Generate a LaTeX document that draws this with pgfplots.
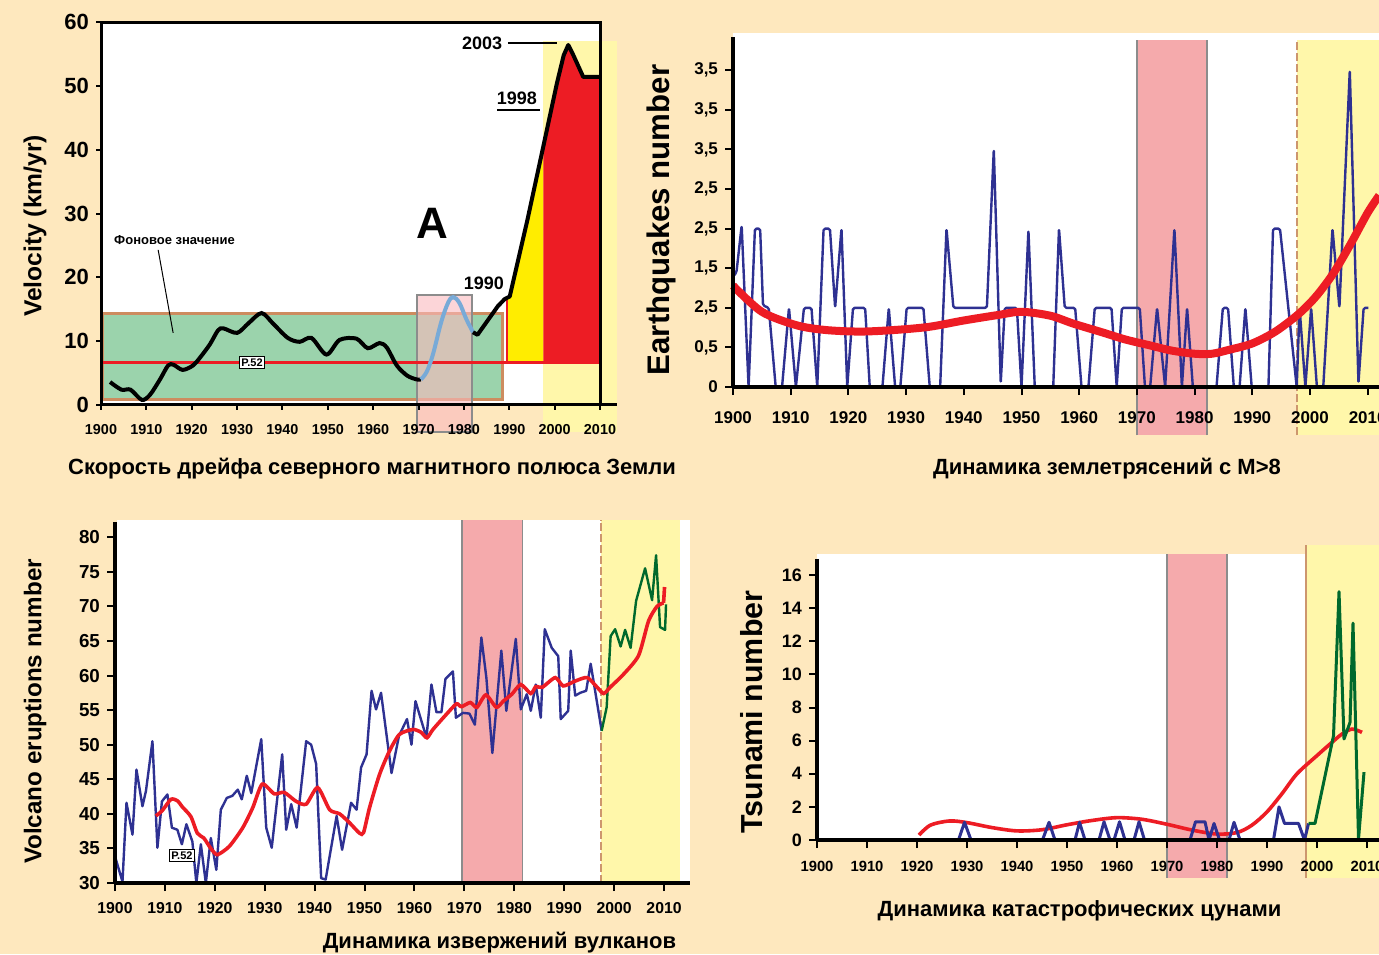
\documentclass[border=0pt]{standalone}
\usepackage{fontspec}
\setmainfont{Liberation Sans}
\usepackage{pgfplots}
\pgfplotsset{compat=1.18}
\definecolor{bg}{RGB}{254,232,190}
\definecolor{lyel}{RGB}{255,247,170}
\definecolor{pnk}{RGB}{245,170,172}
\definecolor{grn}{RGB}{155,211,172}
\definecolor{brn}{RGB}{205,140,95}
\definecolor{rd}{RGB}{237,28,36}
\definecolor{yel}{RGB}{255,237,0}
\definecolor{nb}{RGB}{46,49,146}
\definecolor{dg}{RGB}{0,105,45}
\definecolor{lb}{RGB}{120,170,215}
\definecolor{gr}{RGB}{140,140,140}
\definecolor{tanc}{RGB}{205,150,110}
\definecolor{ovl}{RGB}{250,185,190}
\newcommand{\fs}[1]{\bfseries\fontsize{#1}{#1}\selectfont}
\pgfplotsset{
  base/.style={scale only axis, clip=false, axis on top,
    /pgf/number format/assume math mode=true,
    /pgf/number format/1000 sep={},
    tick align=outside, tick style={black, line width=1pt},
    major tick length=4pt, axis line style={line width=2pt},
    anchor=south west},
}
\begin{document}
\begin{tikzpicture}
\useasboundingbox (0,0) rectangle (689.5pt,477pt);
\fill[bg] (0,0) rectangle (689.5pt,477pt);

% ---------------- Panel 1 ----------------
\begin{axis}[base, at={(50.5pt,274.5pt)}, width=249.5pt, height=191.5pt,
  xmin=1900, xmax=2010, ymin=0, ymax=60,
  xtick={1900,1910,...,2010}, ytick={0,10,...,60}, tick pos=left,
  axis line style={line width=1.5pt}, major tick length=2.5pt,
  axis background/.style={fill=white},
  xticklabel style={font=\fs{7.2}, yshift=-3.5pt}, yticklabel style={font=\fs{11}}]
\fill[lyel] (axis cs:1997.5,-4.2) rectangle (axis cs:2013.7,57);
\filldraw[fill=grn, draw=brn, line width=1.5pt] (axis cs:1900.3,0.8) rectangle (axis cs:1988.5,14.4);
\filldraw[fill=ovl, fill opacity=0.6, draw=gr, line width=0.8pt] (axis cs:1969.7,-4.2) rectangle (axis cs:1981.8,17.2);
\addplot[fill=yel, draw=none] coordinates {(1989.4,6.6)(1989.4,16.8)(1990.1,17)(1994,29)(1997.5,40.5)(1997.5,6.6)} -- cycle;
\addplot[fill=rd, draw=none] coordinates {(1997.5,6.6)(1997.5,40.5)(2000.5,50.4)(2002,54.8)(2003,56.4)(2004,55)(2006.3,51.4)(2010,51.4)(2010,6.6)} -- cycle;
\addplot[rd, line width=1.5pt] coordinates {(1900,6.6)(2010,6.6)};
\addplot[rd, line width=1pt] coordinates {(1989.4,6.6)(1989.4,16.8)};
\addplot[black, line width=2pt, smooth, tension=0.5] coordinates {(1902,3.6)(1904.5,2.4)(1906.5,2.4)(1909,0.8)(1910.8,1.6)(1913,4)(1914.8,6.2)(1916,6.3)(1918,5.5)(1920.3,6.2)(1921.8,7.4)(1924,9.5)(1925.8,11.7)(1927,12)(1930,11.3)(1932.5,12.8)(1935.4,14.4)(1938,12.7)(1941.2,10.5)(1943.8,9.9)(1946.4,10.5)(1949.7,7.9)(1952.6,10.2)(1956.3,10.4)(1958.8,8.9)(1961.4,9.7)(1963,9)(1965.2,6.2)(1967.5,4.6)(1969.6,4)(1970.5,4)};
\addplot[lb, line width=2pt, smooth, tension=0.6] coordinates {(1970.5,4)(1971.8,5.2)(1973.2,8)(1975,13)(1976.5,16)(1977.6,16.9)(1979,16)(1980.5,13.5)(1982,11.4)};
\addplot[black, line width=2pt, line join=round] coordinates {(1982,11.4)(1983,11)(1985,13)(1987.5,15.5)(1989,16.6)(1990.1,17)(1994,29)(1997.5,40.5)(2000.5,50.4)(2002,54.8)(2003,56.4)(2004,55)(2006.3,51.4)(2010,51.4)};
\draw[line width=1.5pt] (axis cs:2010,0) -- (axis cs:2013.7,0);
\node[font=\fs{6.5}] at (axis cs:1916.2,25.9) {Фоновое значение};
\draw[line width=0.5pt] (axis cs:1912.6,24.3) -- (axis cs:1915.9,11.3);
\node[draw=black, fill=white, inner sep=1pt, line width=0.6pt, font=\fs{5.5}] at (axis cs:1933.3,6.7) {P.52};
\node[font=\fs{22}] at (axis cs:1973,28.5) {A};
\node[font=\fs{9}] at (axis cs:1984.4,19.1) {1990};
\node[font=\fs{9}] at (axis cs:1991.7,48) {1998};
\draw[line width=0.6pt] (axis cs:1987.3,46.2) -- (axis cs:1996.8,46.2);
\node[font=\fs{9}] at (axis cs:1984,56.7) {2003};
\draw[line width=0.6pt] (axis cs:1989.7,56.7) -- (axis cs:2000.5,56.7);
\end{axis}

% ---------------- Panel 2 ----------------
\begin{axis}[base, at={(366.5pt,283.5pt)}, width=323.1pt, height=175pt,
  xmin=1900, xmax=2012, ymin=0, ymax=4.42,
  axis x line*=bottom, axis y line*=left,
  xtick={1900,1910,...,2010}, ytick={0,0.5,...,4},
  yticklabels={0,{0,5},{2,5},{1,5},{2,5},{2,5},{3,5},{3,5},{3,5}},
  xticklabel style={font=\fs{8.5}, yshift=-5pt}, yticklabel style={font=\fs{8.5}}]
\fill[white] (axis cs:1900,0) rectangle (axis cs:2013,4.47);
\fill[lyel] (axis cs:1997.7,-0.61) rectangle (axis cs:2013,4.38);
\fill[pnk] (axis cs:1970,-0.61) rectangle (axis cs:1982.1,4.38);
\draw[gr, line width=0.8pt] (axis cs:1970,-0.61) -- (axis cs:1970,4.38) (axis cs:1982.1,-0.61) -- (axis cs:1982.1,4.38);
\draw[tanc, line width=0.8pt, dash pattern=on 4pt off 1.5pt] (axis cs:1997.7,-0.61) -- (axis cs:1997.7,4.38);
\addplot[nb, line width=1.2pt, line join=round, rounded corners=0.8pt] coordinates {(1900,1.39)(1900.6,1.45)(1901.5,2.04)(1902.7,0)(1903.8,2)(1904.7,2)(1905.2,1.03)(1906.2,1)(1907.4,0)(1908.5,0)(1909.7,1)(1910.9,0)(1912.3,1)(1913.6,1)(1914.6,0)(1915.7,2)(1916.8,2)(1917.7,1)(1918.8,2)(1919.8,0)(1920.8,1)(1922.9,1)(1923.7,0)(1925.9,0)(1927,1)(1928.1,0)(1929,0)(1930.1,1)(1933,1)(1934.1,0)(1935.9,0)(1937,2)(1938.2,1)(1944,1)(1945.2,3)(1946.4,0.05)(1947.1,1)(1949.2,1)(1950,0)(1951.2,1.98)(1952.3,0)(1955.5,0)(1956.5,2)(1957.5,1)(1959.3,1)(1960.4,0)(1961.6,0)(1962.7,1)(1965.6,1)(1966.5,0)(1967.4,1)(1970.5,1)(1971.4,0)(1972.3,0)(1973.5,1)(1974.9,0)(1976.5,2)(1977.8,0)(1978.7,1)(1979.7,0)(1983.8,0)(1984.9,1)(1985.8,1)(1986.8,0)(1987.8,0)(1988.8,1)(1989.9,0)(1992.8,0)(1993.6,2)(1994.8,2)(1997.7,0)(1998.2,1)(1999.2,0)(2000.2,1)(2001.2,0)(2002.3,0)(2003.9,2)(2005.1,1)(2006.9,4)(2008.4,0.05)(2009.3,1)(2010.1,1)};
\addplot[rd, line width=4pt, smooth] coordinates {(1900,1.28)(1905,0.95)(1911,0.78)(1916,0.72)(1922,0.70)(1928,0.72)(1934,0.76)(1940,0.84)(1946,0.91)(1950,0.95)(1955,0.9)(1959,0.80)(1964,0.69)(1968,0.60)(1972,0.53)(1976,0.46)(1980,0.42)(1983,0.42)(1986,0.47)(1990,0.55)(1994,0.70)(1998,0.92)(2001,1.14)(2004,1.43)(2007,1.8)(2010,2.2)(2012,2.42)};
\end{axis}

% ---------------- Panel 3 ----------------
\begin{axis}[base, at={(57.5pt,35.5pt)}, width=287.5pt, height=180.5pt,
  xmin=1900, xmax=2015.2, ymin=30, ymax=82.2,
  axis x line*=bottom, axis y line*=left,
  xtick={1900,1910,...,2010}, ytick={30,35,...,80},
  xticklabel style={font=\fs{7.9}, yshift=-2pt}, yticklabel style={font=\fs{9.4}}]
\fill[white] (axis cs:1900.4,30) rectangle (axis cs:2015.2,82.5);
\fill[lyel] (axis cs:1997.4,30) rectangle (axis cs:2013.2,82.5);
\fill[pnk] (axis cs:1969.5,30) rectangle (axis cs:1981.6,82.5);
\draw[gr, line width=0.8pt] (axis cs:1969.5,30) -- (axis cs:1969.5,82.5) (axis cs:1981.6,30) -- (axis cs:1981.6,82.5);
\draw[tanc, line width=0.8pt, dash pattern=on 4pt off 1.5pt] (axis cs:1997.4,30) -- (axis cs:1997.4,82.5);
\addplot[nb, line width=1.2pt, line join=round] coordinates {(1900.1,33.6)(1901.5,30.2)(1902.3,41.6)(1903.5,37)(1904.3,46.4)(1905.5,41.1)(1906.2,43.3)(1907.5,50.5)(1908.5,35.1)(1909.4,41.8)(1910.5,42.8)(1911.4,38)(1912.5,37.7)(1913.4,35.6)(1914.3,38.5)(1915.5,36)(1916.3,30)(1917.2,35.6)(1918.2,30)(1919.2,36.5)(1920.3,31.9)(1921.2,40.6)(1922.4,42.3)(1923.5,42.6)(1924.6,43.5)(1925.4,42.1)(1926.4,45.5)(1927.3,43)(1929.3,50.8)(1930.3,38)(1931.4,35.1)(1933.5,48.6)(1934.3,37.7)(1935.3,41.4)(1936.4,38)(1938.3,50.5)(1939.3,50)(1940.3,47.2)(1941.3,30.7)(1942.2,30.5)(1944.4,39.7)(1945.5,34.8)(1947.3,41.6)(1948.4,40.6)(1949.3,46.7)(1950.4,48.6)(1951.4,57.8)(1952.3,55.1)(1953.3,57.5)(1955.4,45.9)(1956.9,51.3)(1958.5,53.7)(1959.4,50)(1960.2,56.3)(1962.4,51)(1963.4,58.7)(1964.4,54.7)(1965.4,54.7)(1966.2,59.5)(1967.7,60.6)(1968.3,53.9)(1969.7,54.6)(1971,54.5)(1972.1,52.9)(1973.4,65.5)(1974.4,59.7)(1975.6,48.8)(1977.4,63.6)(1978.4,54.9)(1980.3,65.3)(1981.3,55.1)(1982.5,57.3)(1983.3,54.9)(1984.3,58.7)(1985.3,53.9)(1986.1,66.7)(1987.5,64)(1988.8,62.8)(1989.3,53.7)(1990.8,54.9)(1991.3,63.6)(1992.2,57.1)(1993.2,57.5)(1994.4,57.8)(1995.3,61.7)(1997.5,52)};
\addplot[dg, line width=1.2pt, line join=round] coordinates {(1997.5,52)(1998.5,55.4)(1999.3,65.7)(2000.2,66.7)(2001.3,64.2)(2002.2,66.6)(2003.3,64)(2004.4,70.8)(2006.2,75.5)(2007.6,70.9)(2008.4,77.4)(2009.2,67)(2010.2,66.6)(2010.4,70.3)};
\addplot[rd, line width=1.8pt, smooth, tension=0.4] coordinates {(1908.2,39.7)(1909.5,40.5)(1911.2,42.1)(1912.5,41.9)(1913.5,41)(1915.2,39.6)(1916.5,37.2)(1917.8,36.5)(1919.2,35)(1920.5,34.1)(1922.9,35.3)(1925.6,38)(1927.6,40.9)(1929.5,44.3)(1931.9,42.9)(1933.9,43.1)(1936.3,41.8)(1938.3,41.4)(1940.6,43.8)(1943,40.6)(1945,40)(1947,38.7)(1949,37.2)(1949.8,37.3)(1951,40.9)(1953,45.7)(1955,49.1)(1957,51.5)(1959.7,52.2)(1961.3,51.8)(1962.5,51)(1963.7,52.2)(1966.4,54.4)(1968.4,55.9)(1969.4,55.5)(1971.2,56.1)(1972.5,55.4)(1974.3,57.2)(1976.4,55.4)(1977.8,56.3)(1979.5,57.3)(1981.3,58.7)(1983.3,57.4)(1984.3,58.4)(1985.6,58.3)(1988.2,59.7)(1989.8,58.5)(1992.2,59.2)(1994.6,59.7)(1996.6,58.3)(1997.9,57.4)(1999.2,58.3)(2001.9,60.2)(2004.9,62.9)(2006.9,67.9)(2008.6,70)(2009.9,70.5)};
\addplot[rd, line width=1.8pt] coordinates {(2009.9,70.5)(2010.1,72.8)};
\node[draw=black, fill=white, inner sep=1pt, line width=0.6pt, font=\fs{5.5}] at (axis cs:1913.4,34) {P.52};
\end{axis}

% ---------------- Panel 4 ----------------
\begin{axis}[base, at={(408.5pt,57pt)}, width=282.5pt, height=140.75pt,
  xmin=1900, xmax=2013, ymin=0, ymax=17,
  axis x line*=bottom, axis y line*=left,
  xtick={1900,1910,...,2010}, ytick={0,2,...,16},
  xticklabel style={font=\fs{7.4}, yshift=-3pt}, yticklabel style={font=\fs{9}}]
\fill[white] (axis cs:1900,0) rectangle (axis cs:1997.8,17.3);
\fill[lyel] (axis cs:1997.8,-2.3) rectangle (axis cs:2014,17.8);
\fill[pnk] (axis cs:1970,-2.3) rectangle (axis cs:1982,17.3);
\draw[gr, line width=0.8pt] (axis cs:1970,-2.3) -- (axis cs:1970,17.3) (axis cs:1982,-2.3) -- (axis cs:1982,17.3);
\draw[tanc, line width=0.6pt] (axis cs:1997.8,-2.3) -- (axis cs:1997.8,17.8);
\addplot[rd, line width=1.8pt, smooth] coordinates {(1920.4,0.3)(1922.7,0.9)(1926.5,1.15)(1930,1.05)(1935,0.75)(1940,0.55)(1945,0.62)(1950,0.92)(1955,1.18)(1960,1.35)(1965,1.25)(1970,0.95)(1975,0.6)(1980,0.36)(1984,0.45)(1987,0.9)(1990,1.7)(1993,2.8)(1996,4)(2000,5.1)(2003,5.9)(2005,6.4)(2007,6.7)(2009,6.5)};
\addplot[nb, line width=1.5pt, line join=round] coordinates {(1928.3,0)(1929.5,1.07)(1930.8,0)(1945.1,0)(1946.4,1.07)(1947.6,0)(1951.6,0)(1952.5,1.07)(1953.6,0)(1956.4,0)(1957.4,1.1)(1958.6,0)(1959.4,0)(1960.5,1.1)(1961.6,0)(1963.4,0)(1964.4,1.1)(1965.5,0)(1974.6,0)(1975.7,1.1)(1977.6,1.1)(1978.4,0)(1979.4,1)(1980.5,0)(1982.4,0)(1983.4,1.07)(1984.6,0)(1991.3,0)(1992.4,2)(1993.5,1)(1996.3,1)(1997.5,0)(1998.3,1)};
\addplot[dg, line width=1.5pt, line join=round] coordinates {(1998.3,1)(1999.6,1)(2003.3,6.3)(2004.4,15)(2005.4,6.1)(2006.6,7.1)(2007.2,13.1)(2008.3,0.06)(2009.4,4.1)};
\end{axis}

% ---------------- Text outside axes ----------------
\node[rotate=90, font=\fs{12.3}] at (17.5pt,364pt) {Velocity (km/yr)};
\node[rotate=90, font=\fs{15.6}] at (330.5pt,367pt) {Earthquakes number};
\node[rotate=90, font=\fs{12.1}] at (17.5pt,121.25pt) {Volcano eruptions number};
\node[rotate=90, font=\fs{15.2}] at (376pt,121pt) {Tsunami number};
\node[font=\fs{11}] at (186pt,242.5pt) {Скорость дрейфа северного магнитного полюса Земли};
\node[font=\fs{11}] at (553.5pt,242.5pt) {Динамика землетрясений с M>8};
\node[font=\fs{11}] at (249.75pt,5.5pt) {Динамика извержений вулканов};
\node[font=\fs{11}] at (539.75pt,21.5pt) {Динамика катастрофических цунами};
\end{tikzpicture}
\end{document}
